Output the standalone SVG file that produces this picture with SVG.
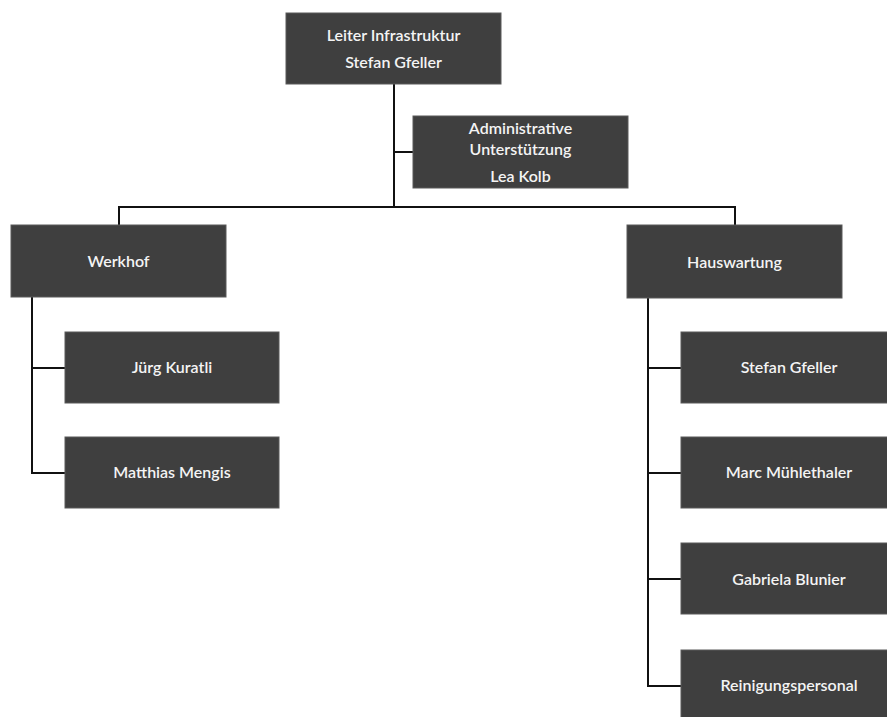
<svg xmlns="http://www.w3.org/2000/svg" width="887" height="717" viewBox="0 0 887 717">
<style>
.box{fill:#3f3f3f;stroke:#5a5a5a;stroke-width:1}
.t{font-family:Lato,"Open Sans",sans-serif;font-size:16px;font-weight:600;fill:#f4f4f4;text-anchor:middle}
.c{fill:none;stroke:#111;stroke-width:2}
</style>
<rect width="887" height="717" fill="#ffffff"/>
<g id="connectors">
<path class="c" d="M394 84V207"/>
<path class="c" d="M394 152H413"/>
<path class="c" d="M119 225V207H735V225"/>
<path class="c" d="M32 297V473H65M32 368H65"/>
<path class="c" d="M648 298V686H681M648 368H681M648 473H681M648 579H681"/>
</g>
<g id="n-leiter"><rect class="box" x="286" y="13" width="215" height="71"/><text class="t" x="393.5" y="41">Leiter Infrastruktur</text><text class="t" x="393.5" y="68">Stefan Gfeller</text></g>
<g id="n-admin"><rect class="box" x="413" y="116" width="215" height="72"/><text class="t" x="520.5" y="134">Administrative</text><text class="t" x="520.5" y="155">Unterstützung</text><text class="t" x="520.5" y="182">Lea Kolb</text></g>
<g id="n-werkhof"><rect class="box" x="11" y="225" width="215" height="72"/><text class="t" x="118.5" y="267">Werkhof</text></g>
<g id="n-juerg"><rect class="box" x="65" y="332" width="214" height="71"/><text class="t" x="172" y="373">Jürg Kuratli</text></g>
<g id="n-matthias"><rect class="box" x="65" y="437" width="214" height="71"/><text class="t" x="172" y="478">Matthias Mengis</text></g>
<g id="n-hauswartung"><rect class="box" x="627" y="225" width="215" height="73"/><text class="t" x="734.5" y="268">Hauswartung</text></g>
<g id="n-stefan"><rect class="box" x="681" y="332" width="216" height="71"/><text class="t" x="789" y="373">Stefan Gfeller</text></g>
<g id="n-marc"><rect class="box" x="681" y="437" width="216" height="71"/><text class="t" x="789" y="478">Marc Mühlethaler</text></g>
<g id="n-gabriela"><rect class="box" x="681" y="543" width="216" height="71"/><text class="t" x="789" y="585">Gabriela Blunier</text></g>
<g id="n-reinigung"><rect class="box" x="681" y="650" width="216" height="72"/><text class="t" x="789" y="691">Reinigungspersonal</text></g>
</svg>
